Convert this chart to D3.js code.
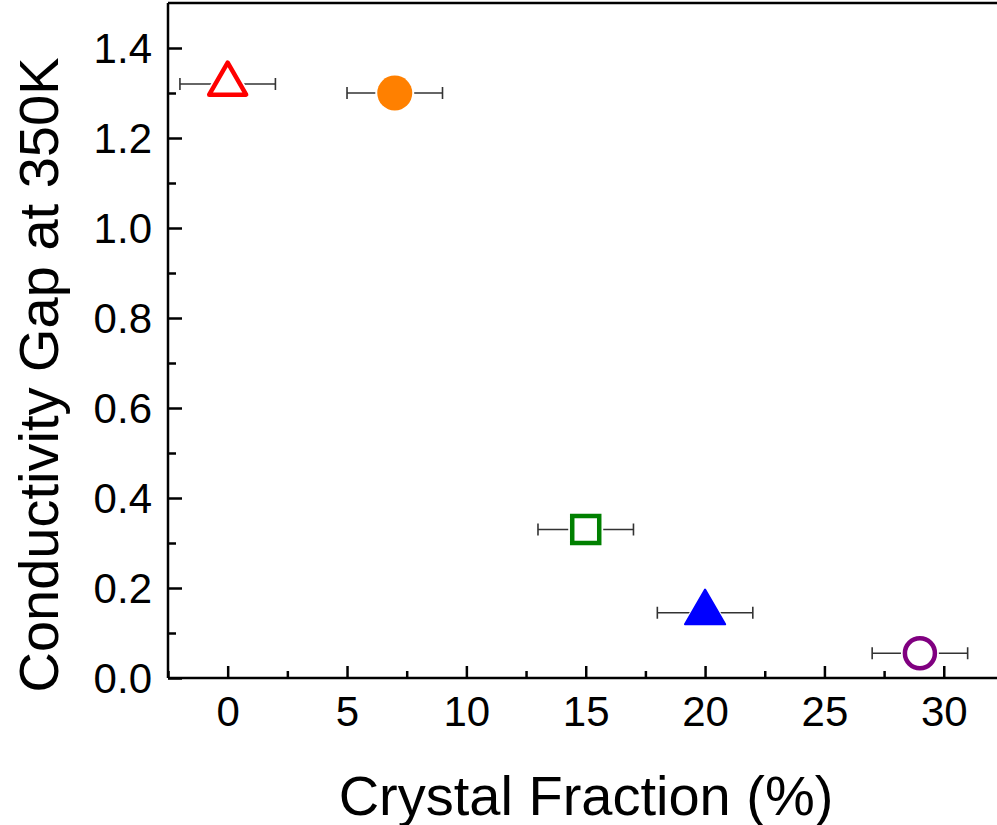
<!DOCTYPE html>
<html><head><meta charset="utf-8">
<script src="https://cdn.jsdelivr.net/npm/d3@7"></script>
<style>
html,body{margin:0;padding:0;background:#fff;overflow:hidden;}
text{font-family:"Liberation Sans",Arial,Helvetica,sans-serif;fill:#000;}
</style></head>
<body>
<svg id="chart" width="997" height="825"></svg>
<script>
const crystalFraction = [0, 7, 15, 20, 29];
const conductivityGap = [1.32, 1.30, 0.33, 0.145, 0.055];
const xError = [2, 2, 2, 2, 2];
const markerShape = ["triangle", "circle", "square", "triangle", "circle"];
const markerFilled = [false, true, false, true, false];
const markerColor = ["#ff0000", "#ff8000", "#008000", "#0000ff", "#800080"];
const xTickValues = [0, 5, 10, 15, 20, 25, 30];
const yTickValues = [0.0, 0.2, 0.4, 0.6, 0.8, 1.0, 1.2, 1.4];
const xTitle = "Crystal Fraction (%)";
const yTitle = "Conductivity Gap at 350K";

(function () {
const svg = d3.select("#chart");
const padL = 168, padT = 3, padB = 678;
const x = d3.scaleLinear().domain([-2.5, 32.5]).range([padL, padL + 35 * 23.87]);
const y = d3.scaleLinear().domain([0, 1.5]).range([padB, padT]);

// frame: top line
svg.append("line").attr("x1", padL).attr("x2", 1000).attr("y1", padT).attr("y2", padT)
  .attr("stroke", "#000").attr("stroke-width", 2.5);

// bottom axis
const xAxis = d3.axisBottom(x).tickValues(xTickValues).tickSize(-12).tickPadding(0).tickFormat(d3.format("d"));
const gx = svg.append("g").attr("transform", `translate(0,${padB})`).call(xAxis);
const xMinor = d3.axisBottom(x).tickValues(d3.range(-2.5, 33, 5)).tickSize(-7).tickFormat("");
const gxm = svg.append("g").attr("transform", `translate(0,${padB})`).call(xMinor);
gxm.select(".domain").remove();
gx.select(".domain").attr("d", `M${padL},0H1000`).attr("stroke-width", 2.5);
gx.selectAll(".tick line").attr("stroke-width", 2.5);
gxm.selectAll(".tick line").attr("stroke-width", 2.5);
gx.selectAll(".tick text").attr("font-size", 42).attr("y", 48).attr("dy", 0)
  .attr("font-family", "Liberation Sans, Arial, sans-serif");

// left axis
const yAxis = d3.axisLeft(y).tickValues(yTickValues).tickSize(-14).tickPadding(14).tickFormat(d3.format(".1f"));
const gy = svg.append("g").attr("transform", `translate(${padL},0)`).call(yAxis);
const yMinor = d3.axisLeft(y).tickValues(d3.range(0.1, 1.5, 0.2)).tickSize(-8).tickFormat("");
const gym = svg.append("g").attr("transform", `translate(${padL},0)`).call(yMinor);
gym.select(".domain").remove();
gy.select(".domain").attr("d", `M0,${padT}V${padB}`).attr("stroke-width", 2.5);
gy.selectAll(".tick line").attr("stroke-width", 2.5);
gym.selectAll(".tick line").attr("stroke-width", 2.5);
gy.selectAll(".tick text").attr("font-size", 42).attr("x", -16).attr("dy", "0.34em")
  .attr("font-family", "Liberation Sans, Arial, sans-serif");

// titles
svg.append("text").attr("x", 586).attr("y", 815).attr("text-anchor", "middle")
  .attr("font-size", 56).text(xTitle);
svg.append("text").attr("transform", "translate(58,375) rotate(-90)").attr("text-anchor", "middle")
  .attr("font-size", 56).text(yTitle);

// data
const data = crystalFraction.map((v, i) => ({
  x: v, y: conductivityGap[i], err: xError[i], shape: markerShape[i],
  filled: markerFilled[i], color: markerColor[i]
}));

const eb = svg.append("g").attr("stroke", "#333").attr("stroke-width", 1.6);
data.forEach(d => {
  const cy = y(d.y);
  eb.append("line").attr("x1", x(d.x - d.err)).attr("x2", x(d.x + d.err)).attr("y1", cy).attr("y2", cy);
  [d.x - d.err, d.x + d.err].forEach(e => {
    eb.append("line").attr("x1", x(e)).attr("x2", x(e)).attr("y1", cy - 6).attr("y2", cy + 6);
  });
});

function symbolFor(d) {
  if (d.shape === "triangle") return d3.symbol(d3.symbolTriangle, d.filled ? 700 : 590)();
  if (d.shape === "square") return d3.symbol(d3.symbolSquare, 27 * 27)();
  return d3.symbol(d3.symbolCircle, d.filled ? Math.PI * 17.5 * 17.5 : Math.PI * 15 * 15)();
}

const mk = svg.append("g");
data.forEach(d => {
  const g = mk.append("g").attr("transform", `translate(${x(d.x)},${y(d.y)})`);
  g.append("path").attr("d", symbolFor(d)).attr("fill", "#fff").attr("stroke", "#fff")
    .attr("stroke-width", d.filled ? 4 : 8).attr("stroke-linejoin", "round");
  const p = g.append("path").attr("d", symbolFor(d))
    .attr("fill", d.filled ? d.color : "#fff")
    .attr("stroke", d.filled ? "none" : d.color)
    .attr("stroke-width", 4.5).attr("stroke-linejoin", d.shape === "square" ? "miter" : "round");
  if (d.filled && d.shape === "triangle") {
    p.attr("stroke", d.color).attr("stroke-width", 2);
  }
});
})();
</script>
</body></html>
